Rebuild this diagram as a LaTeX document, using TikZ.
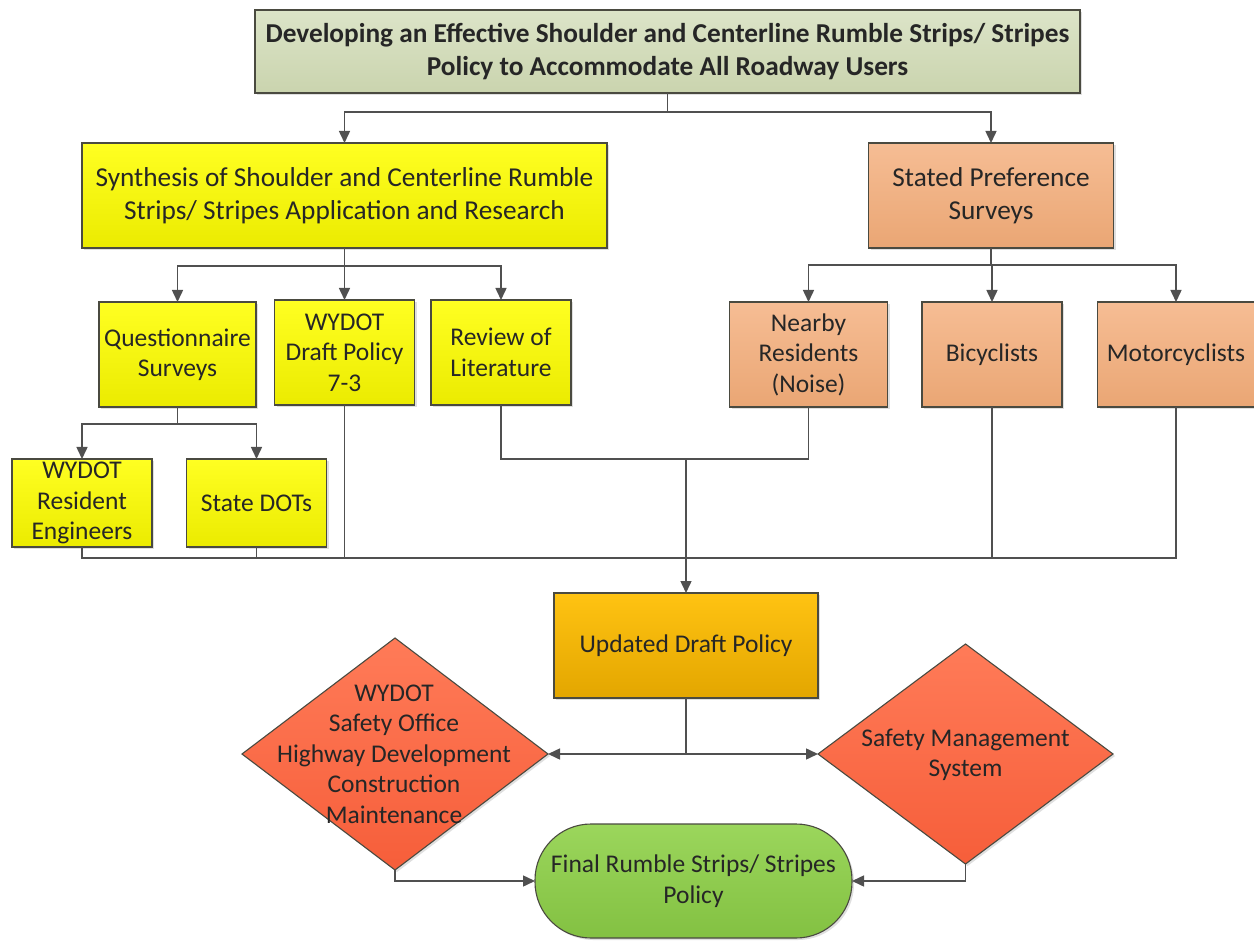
\documentclass[tikz,border=0pt]{standalone}
\usepackage{fontspec}
\setmainfont{Carlito}
\usetikzlibrary{arrows.meta,shapes.geometric,shadows}
\definecolor{titleTop}{HTML}{DCE4C8}
\definecolor{titleBot}{HTML}{CAD4AE}
\definecolor{yelTop}{HTML}{FFFF22}
\definecolor{yelBot}{HTML}{EBEB00}
\definecolor{peachTop}{HTML}{F6BD94}
\definecolor{peachBot}{HTML}{EAA674}
\definecolor{goldTop}{HTML}{FFC312}
\definecolor{goldBot}{HTML}{E3A600}
\definecolor{redTop}{HTML}{FF7B58}
\definecolor{redBot}{HTML}{F65E3A}
\definecolor{grnTop}{HTML}{9BD65C}
\definecolor{grnBot}{HTML}{83C142}
\definecolor{edge}{HTML}{4A4A40}
\definecolor{wire}{HTML}{505050}
\definecolor{txt}{HTML}{262626}
\begin{document}
\begin{tikzpicture}[x=1pt,y=-1pt,
  base/.style={draw=edge, line width=1.1pt, inner sep=0pt, outer sep=0pt, align=center,
    text=txt, font=\fontsize{25.5}{30.5}\selectfont,
    drop shadow={opacity=0.25, shadow xshift=2pt, shadow yshift=-2pt}},
  ttlbox/.style={base, top color=titleTop, bottom color=titleBot, font=\fontsize{27.3}{33}\selectfont\bfseries},
  yelbox/.style={base, top color=yelTop, bottom color=yelBot},
  peachbox/.style={base, top color=peachTop, bottom color=peachBot},
  goldbox/.style={base, top color=goldTop, bottom color=goldBot},
  diabox/.style={base, shape=diamond, top color=redTop, bottom color=redBot},
  endbox/.style={base, rounded corners=56pt, top color=grnTop, bottom color=grnBot},
  dtext/.style={align=center, text=txt, inner sep=0pt, font=\fontsize{25.5}{30.5}\selectfont},
  conn/.style={draw=wire, line width=1.5pt},
  arr/.style={conn, -{Triangle[length=12pt,width=11pt]}}
]
\useasboundingbox (0,0) rectangle (1254,941);
\fill[white] (0,0) rectangle (1254,941);

% top level
\node[ttlbox, minimum width=825pt, minimum height=83pt] (title) at (667.5,51.5)
  {Developing an Effective Shoulder and Centerline Rumble Strips/ Stripes\\Policy to Accommodate All Roadway Users};
\node[yelbox, minimum width=525pt, minimum height=105pt, font=\fontsize{27.3}{32.5}\selectfont] (synth) at (344.5,195.5)
  {Synthesis of Shoulder and Centerline Rumble\\Strips/ Stripes Application and Research};
\node[peachbox, minimum width=245pt, minimum height=105pt, font=\fontsize{27.3}{32.5}\selectfont] (stated) at (991,195.5)
  {Stated Preference\\Surveys};

% second level
\node[yelbox, minimum width=157pt, minimum height=105pt] (quest) at (177.5,354.5) {Questionnaire\\Surveys};
\node[yelbox, minimum width=140pt, minimum height=105pt] (draft) at (344.5,352.5) {WYDOT\\Draft Policy\\7-3};
\node[yelbox, minimum width=140pt, minimum height=105pt] (review) at (501,352.5) {Review of\\Literature};
\node[peachbox, minimum width=158pt, minimum height=105pt] (nearby) at (808.5,354.5) {Nearby\\Residents\\(Noise)};
\node[peachbox, minimum width=140pt, minimum height=105pt] (bicy) at (992,354.5) {Bicyclists};
\node[peachbox, minimum width=157pt, minimum height=105pt] (motor) at (1176,354.5) {Motorcyclists};

% third level
\node[yelbox, minimum width=140pt, minimum height=88pt] (rese) at (82,503) {WYDOT\\Resident\\Engineers};
\node[yelbox, minimum width=140pt, minimum height=88pt] (sdots) at (256.5,503) {State DOTs};

% lower part
\node[goldbox, minimum width=264pt, minimum height=105pt] (upd) at (686,645.5) {Updated Draft Policy};
\node[diabox, minimum width=306pt, minimum height=232pt] (d1) at (395,754) {};
\node[dtext] (d1t) at (394,754) {WYDOT\\Safety Office\\Highway Development\\Construction\\Maintenance};
\node[diabox, minimum width=295pt, minimum height=220pt] (d2) at (965.5,754) {};
\node[dtext] (d2t) at (965.5,755) {Safety Management\\System};
\node[endbox, minimum width=317pt, minimum height=114pt] (final) at (693.5,881) {Final Rumble Strips/ Stripes\\Policy};

% connectors top
\draw[arr] (title.south) -- ++(0,19) -| (synth.north);
\draw[arr] (title.south) -- ++(0,19) -| (stated.north);
\draw[arr] (synth.south) -- ++(0,18) -| (quest.north);
\draw[arr] (synth.south) -- ++(0,18) -| (draft.north);
\draw[arr] (synth.south) -- ++(0,18) -| (review.north);
\draw[arr] (stated.south) -- ++(0,17) -| (nearby.north);
\draw[arr] (stated.south) -- ++(0,17) -| (bicy.north);
\draw[arr] (stated.south) -- ++(0,17) -| (motor.north);
\draw[arr] (quest.south) -- ++(0,17) -| (rese.north);
\draw[arr] (quest.south) -- ++(0,17) -| (sdots.north);

% collectors
\coordinate (cy) at (0,558);
\coordinate (ry) at (0,459);
\draw[conn] (rese.south) -- (rese.south |- cy) -- (motor.south |- cy) -- (motor.south);
\draw[conn] (sdots.south) -- (sdots.south |- cy);
\draw[conn] (draft.south) -- (draft.south |- cy);
\draw[conn] (bicy.south) -- (bicy.south |- cy);
\draw[conn] (review.south) -- (review.south |- ry) -- (nearby.south |- ry) -- (nearby.south);
\draw[arr] (upd.north |- ry) -- (upd.north);

% lower connectors
\draw[arr] (upd.south) |- (d1.east);
\draw[arr] (upd.south) |- (d2.west);
\draw[arr] (d1.south) |- (final.west);
\draw[arr] (d2.south) |- (final.east);
\end{tikzpicture}
\end{document}
